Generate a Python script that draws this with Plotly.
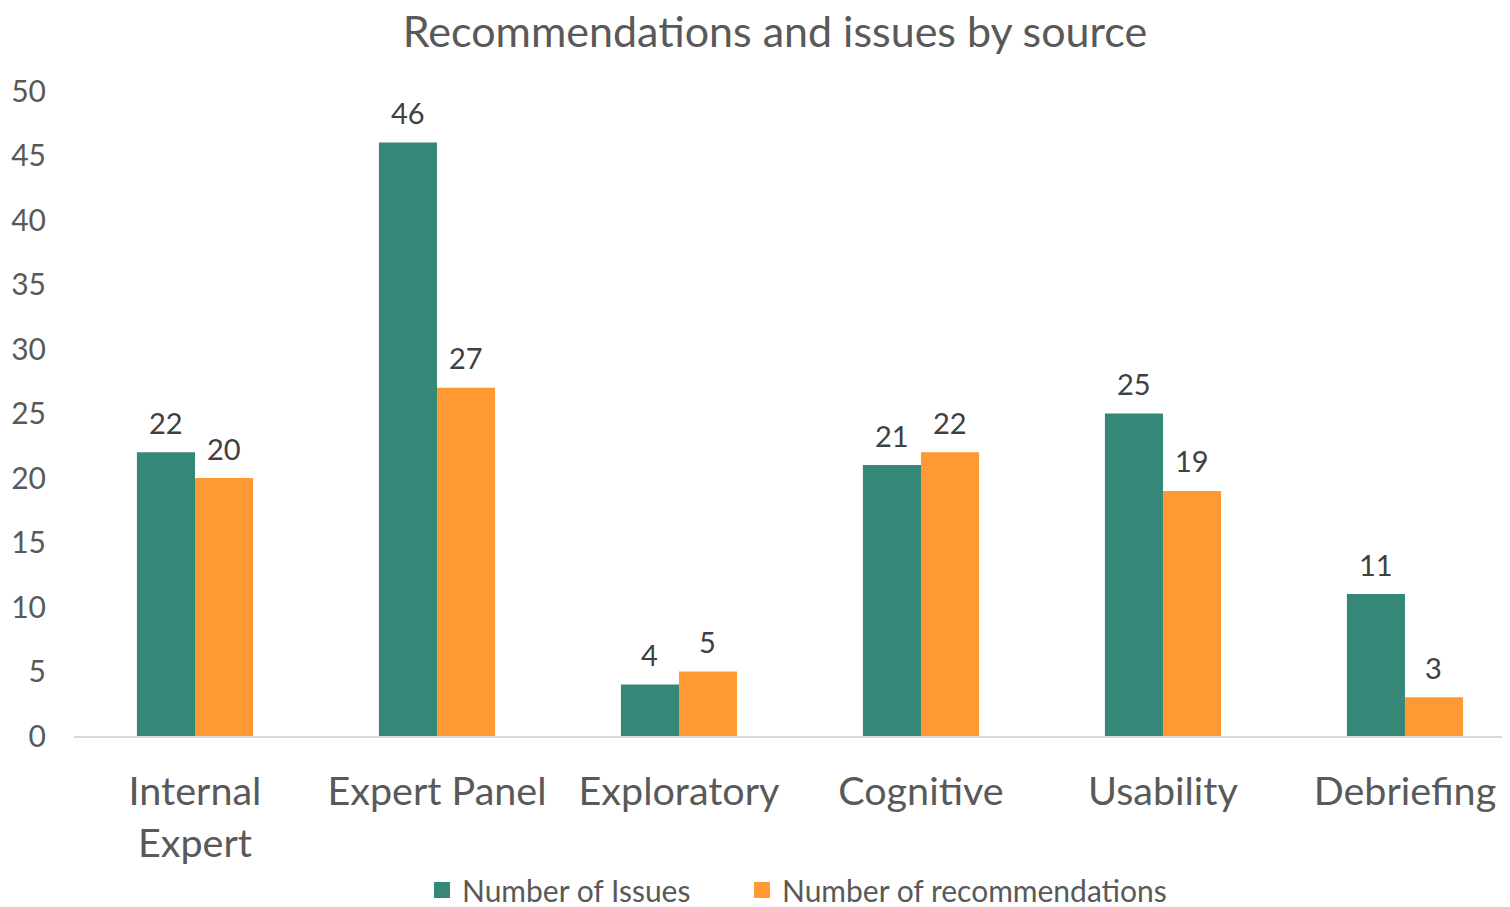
import plotly.graph_objects as go

categories = ["Internal<br>Expert", "Expert Panel", "Exploratory", "Cognitive", "Usability", "Debriefing"]
issues = [22, 46, 4, 21, 25, 11]
recommendations = [20, 27, 5, 22, 19, 3]

TEAL = "#358877"
ORANGE = "#FF9933"
FONT = "Lato, Open Sans, sans-serif"
W, H = 1502, 899  # page body adds 8px margin

fig = go.Figure()
fig.add_trace(go.Bar(x=categories, y=issues, name="Number of Issues",
                     marker=dict(color=TEAL, line=dict(width=0)), showlegend=False))
fig.add_trace(go.Bar(x=categories, y=recommendations, name="Number of recommendations",
                     marker=dict(color=ORANGE, line=dict(width=0)), showlegend=False))

# legend entries with bigger square swatches, one legend each so they can be spaced
for name, color, lg in [("Number of Issues", TEAL, "legend"),
                        ("Number of recommendations", ORANGE, "legend2")]:
    fig.add_trace(go.Scatter(x=[None], y=[None], mode="markers", name=name, legend=lg,
                             marker=dict(symbol="square", size=18, color=color)))

# value labels above each bar
for vals, shift in [(issues, -29), (recommendations, 29)]:
    for cat, v in zip(categories, vals):
        fig.add_annotation(x=cat, y=v, text=str(v), showarrow=False, xshift=shift,
                           yshift=30, font=dict(size=29, color="#404040", family=FONT))

legend_style = dict(orientation="h", xref="container", yref="container", xanchor="left",
                    y=1 - 882 / H, yanchor="middle", itemwidth=30,
                    font=dict(size=30, color="#595959"), bgcolor="rgba(0,0,0,0)")

fig.update_layout(
    width=W, height=H,
    barmode="group", bargap=0.52, bargroupgap=0,
    plot_bgcolor="white", paper_bgcolor="white",
    margin=dict(l=66, r=0, t=83, b=171),
    font=dict(family=FONT, color="#595959"),
    title=dict(text="Recommendations and issues by source", xref="container",
               x=767 / W, xanchor="center", yref="container", y=1 - 24 / H,
               yanchor="middle", font=dict(size=43, color="#595959")),
    legend=dict(x=414 / W, **legend_style),
    legend2=dict(x=734 / W, **legend_style),
)
fig.update_xaxes(range=[-0.5, 5.434], showline=True, linecolor="#D9D9D9", linewidth=2,
                 tickfont=dict(size=39.5, color="#595959"), ticks="", showgrid=False,
                 automargin=False, ticklabelstandoff=20)
fig.update_yaxes(range=[0, 50], dtick=5, showgrid=False, zeroline=False, showline=False,
                 tickfont=dict(size=30, color="#595959"), ticklabelstandoff=27,
                 automargin=False)

fig.write_html("out.html")
